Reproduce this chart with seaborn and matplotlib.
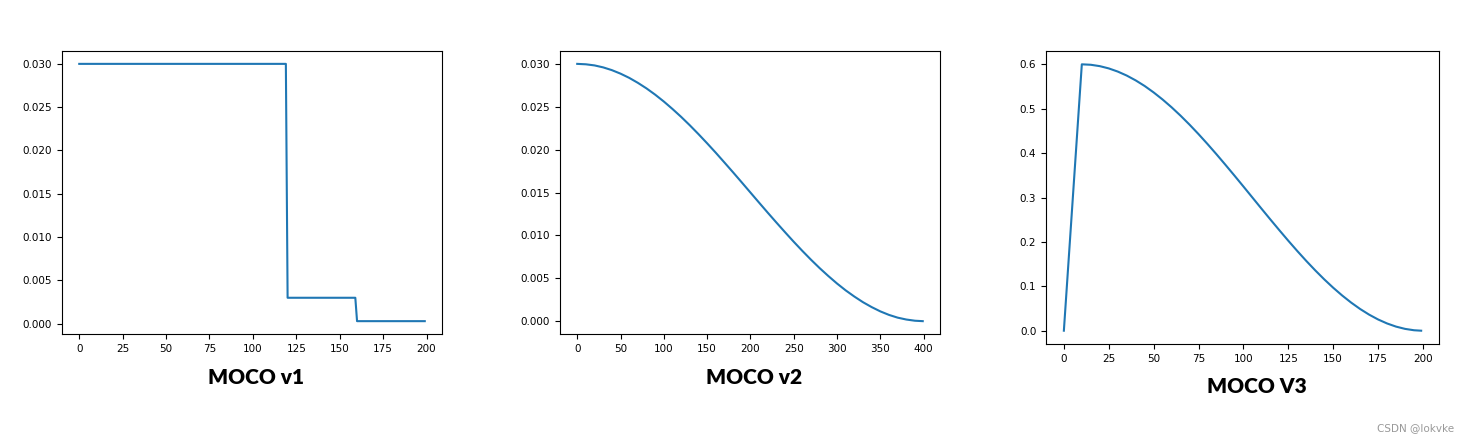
import matplotlib
matplotlib.use("Agg")
from matplotlib import pyplot as plt
import seaborn as sns
import pandas as pd

# MOCO v1: step schedule
v1_epoch = [0, 119, 120, 159, 160, 199]
v1_lr = [0.03, 0.03, 0.003, 0.003, 0.0003, 0.0003]

# MOCO v2: cosine-shaped decay over 400 epochs, sampled every 10 epochs
v2_epoch = [0, 10, 20, 30, 40, 50, 60, 70, 80, 90, 100, 110, 120, 130, 140,
            150, 160, 170, 180, 190, 200, 210, 220, 230, 240, 250, 260, 270,
            280, 290, 300, 310, 320, 330, 340, 350, 360, 370, 380, 390, 399]
v2_lr = [0.03000, 0.02995, 0.02982, 0.02959, 0.02927, 0.02886, 0.02837,
         0.02779, 0.02714, 0.02641, 0.02561, 0.02474, 0.02382, 0.02284,
         0.02181, 0.02074, 0.01964, 0.01850, 0.01735, 0.01618, 0.01500,
         0.01382, 0.01265, 0.01150, 0.01037, 0.00926, 0.00819, 0.00716,
         0.00618, 0.00526, 0.00439, 0.00359, 0.00287, 0.00221, 0.00164,
         0.00114, 0.00073, 0.00041, 0.00019, 0.00005, 0.00000]

# MOCO V3: linear warmup to 0.6, then cosine-shaped decay
v3_epoch = [0, 10, 15, 20, 25, 30, 35, 40, 45, 50, 55, 60, 65, 70, 75, 80,
            85, 90, 95, 100, 105, 110, 115, 120, 125, 130, 135, 140, 145,
            150, 155, 160, 165, 170, 175, 180, 185, 190, 195, 199]
v3_lr = [0.0, 0.6, 0.5990, 0.5959, 0.5908, 0.5837, 0.5747, 0.5638, 0.5512,
         0.5367, 0.5207, 0.5032, 0.4843, 0.4641, 0.4428, 0.4205, 0.3974,
         0.3736, 0.3494, 0.3248, 0.3000, 0.2752, 0.2506, 0.2264, 0.2026,
         0.1795, 0.1572, 0.1359, 0.1157, 0.0968, 0.0793, 0.0633, 0.0489,
         0.0362, 0.0253, 0.0163, 0.0092, 0.0041, 0.0010, 0.0]

titles = ["MOCO v1", "MOCO v2", "MOCO V3"]

fig = plt.figure(figsize=(14.72, 4.42), dpi=100)
# axes boxes in figure fractions
boxes = [[0.0421, 0.2443, 0.2582, 0.6403],
         [0.3804, 0.2443, 0.2582, 0.6403],
         [0.7106, 0.2217, 0.2670, 0.6629]]
title_pos = [(0.174, 0.147), (0.512, 0.147), (0.854, 0.125)]

series = [(v1_epoch, v1_lr), (v2_epoch, v2_lr), (v3_epoch, v3_lr)]
for box, (ep, lr), title, tpos in zip(boxes, series, titles, title_pos):
    ax = fig.add_axes(box)
    df = pd.DataFrame({"epoch": ep, "lr": lr})
    sns.lineplot(data=df, x="epoch", y="lr", ax=ax, color="#1f77b4", linewidth=1.5)
    ax.set_xlabel("")
    ax.set_ylabel("")
    ax.tick_params(labelsize=7.5)
    fig.text(tpos[0], tpos[1], title, ha="center", va="center",
             fontsize=15, fontweight="heavy", family=["Lato", "DejaVu Sans"])

fig.text(0.988, 0.032, "CSDN @lokvke", ha="right", va="center",
         fontsize=7.5, color="#999999")

fig.savefig("out.png", dpi=100)
